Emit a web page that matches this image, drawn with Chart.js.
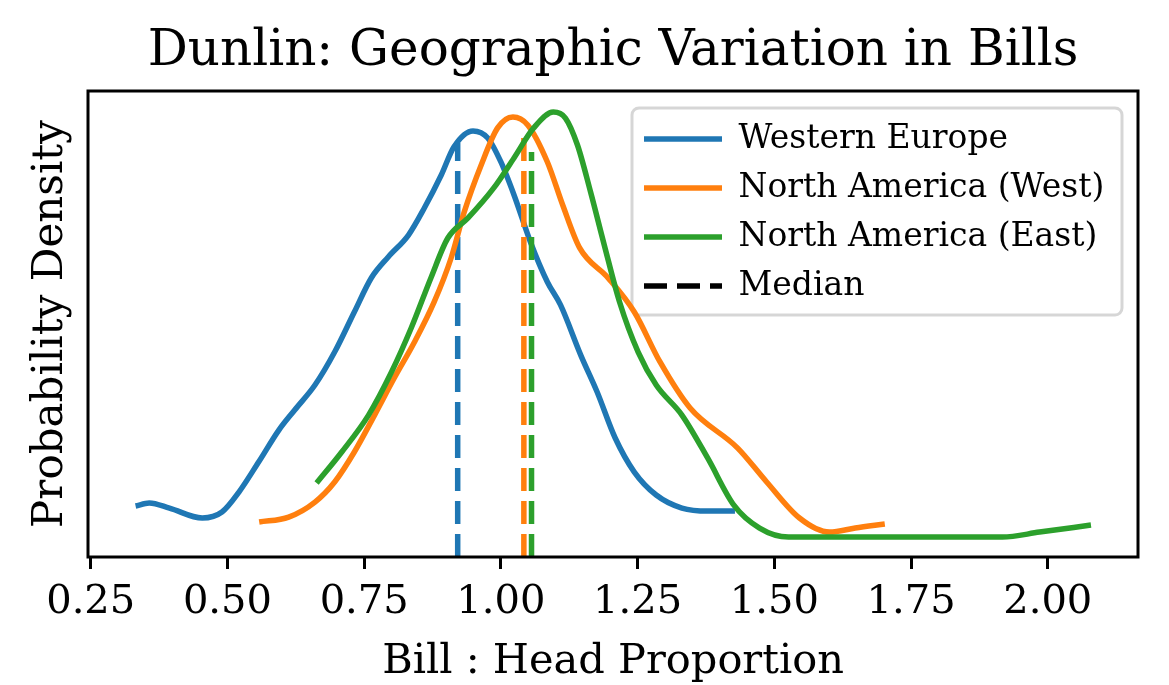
<!DOCTYPE html>
<html>
<head>
<meta charset="utf-8">
<script src="https://cdn.jsdelivr.net/npm/chart.js"></script>
<style>
  html, body { margin: 0; padding: 0; background: #fff; }
</style>
</head>
<body>
<canvas id="chart" width="1169" height="685"></canvas>
<script>
// Dunlin bill : head proportion - density curves

const seriesNames = ['Western Europe', 'North America (West)', 'North America (East)'];
const seriesColors = ['#1f77b4', '#ff7f0e', '#2ca02c'];

const westernEuropeX = [0.332, 0.357, 0.394, 0.454, 0.490, 0.521, 0.557, 0.594, 0.623, 0.660, 0.696, 0.732, 0.763, 0.794, 0.831, 0.860, 0.891, 0.914, 0.949, 0.976, 1.000, 1.024, 1.054, 1.085, 1.109, 1.146, 1.176, 1.209, 1.244, 1.284, 1.331, 1.379, 1.428];
const westernEuropeY = [0.207, 0.227, 0.193, 0.127, 0.167, 0.300, 0.500, 0.713, 0.847, 1.013, 1.233, 1.500, 1.727, 1.867, 2.013, 2.193, 2.413, 2.600, 2.707, 2.660, 2.500, 2.280, 1.967, 1.700, 1.547, 1.213, 0.967, 0.660, 0.433, 0.280, 0.193, 0.173, 0.173];

const northAmericaWestX = [0.558, 0.612, 0.660, 0.696, 0.732, 0.769, 0.805, 0.842, 0.878, 0.909, 0.933, 0.964, 0.994, 1.022, 1.049, 1.085, 1.113, 1.144, 1.196, 1.244, 1.291, 1.346, 1.433, 1.486, 1.546, 1.601, 1.648, 1.702];
const northAmericaWestY = [0.100, 0.133, 0.233, 0.367, 0.567, 0.813, 1.060, 1.300, 1.567, 1.860, 2.167, 2.480, 2.727, 2.800, 2.747, 2.500, 2.213, 1.927, 1.727, 1.500, 1.167, 0.860, 0.593, 0.367, 0.127, 0.033, 0.060, 0.087];

const northAmericaEastX = [0.663, 0.709, 0.758, 0.800, 0.836, 0.872, 0.903, 0.940, 0.987, 1.024, 1.060, 1.096, 1.118, 1.140, 1.164, 1.189, 1.217, 1.251, 1.284, 1.331, 1.378, 1.426, 1.473, 1.526, 1.637, 1.783, 1.917, 1.985, 2.079];
const northAmericaEastY = [0.360, 0.567, 0.813, 1.100, 1.393, 1.727, 1.993, 2.127, 2.327, 2.527, 2.727, 2.833, 2.793, 2.613, 2.300, 1.947, 1.567, 1.233, 1.013, 0.813, 0.527, 0.213, 0.060, 0.000, 0.000, 0.000, 0.000, 0.033, 0.080];

const medianValues = [0.921, 1.042, 1.056];
const medianHeights = [2.627, 2.667, 2.567];

const xTicks = [0.25, 0.50, 0.75, 1.00, 1.25, 1.50, 1.75, 2.00];
const yMin = -0.133;
const yMax = 2.973;

function toPoints(xs, ys) {
    return xs.map((x, i) => ({ x: x, y: ys[i] }));
}

const curves = [
    toPoints(westernEuropeX, westernEuropeY),
    toPoints(northAmericaWestX, northAmericaWestY),
    toPoints(northAmericaEastX, northAmericaEastY)
];

// matplotlib draws later lines on top, chart.js draws the first dataset on top -> reverse
const datasets = [];
for (let i = 0; i < 3; i++) {
    datasets.unshift({
        label: seriesNames[i],
        data: curves[i],
        borderColor: seriesColors[i],
        borderWidth: 5.5,
        pointRadius: 0,
        fill: false,
        cubicInterpolationMode: 'monotone'
    });
    datasets.unshift({
        label: 'Median ' + seriesNames[i],
        data: [{ x: medianValues[i], y: yMin }, { x: medianValues[i], y: medianHeights[i] }],
        borderColor: seriesColors[i],
        borderWidth: 5.5,
        borderDash: [23, 10],
        pointRadius: 0,
        fill: false
    });
}

// axes frame + legend box like matplotlib
const framePlugin = {
    id: 'frame',
    afterLayout(chart) {
        const lg = chart.legend;
        if (!lg) return;
        lg.left = 628;
        lg.top = 106.5;
        lg.right = 1122;
        lg.bottom = 600;
    },
    beforeDraw(chart) {
        const ctx = chart.ctx;
        ctx.save();
        ctx.beginPath();
        ctx.roundRect(632, 108, 490, 207, 7);
        ctx.fillStyle = 'rgba(255,255,255,0.8)';
        ctx.fill();
        ctx.lineWidth = 3;
        ctx.strokeStyle = 'rgba(204,204,204,0.8)';
        ctx.stroke();
        ctx.restore();
    },
    afterDatasetsDraw(chart) {
        const a = chart.chartArea;
        const ctx = chart.ctx;
        ctx.save();
        ctx.lineWidth = 3;
        ctx.strokeStyle = '#000';
        ctx.strokeRect(a.left, a.top, a.right - a.left, a.bottom - a.top);
        ctx.restore();
    }
};

Chart.defaults.font.family = "'DejaVu Serif', serif";
Chart.defaults.color = '#000';

new Chart(document.getElementById('chart'), {
    type: 'line',
    data: { datasets: datasets },
    options: {
        responsive: false,
        animation: false,
        devicePixelRatio: 1,
        layout: { padding: { left: 0, right: 31, top: 0, bottom: 0 } },
        plugins: {
            title: {
                display: true,
                text: 'Dunlin: Geographic Variation in Bills',
                fullSize: false,
                color: '#000',
                font: { size: 50, weight: 'normal' },
                padding: { top: 22, bottom: 9 }
            },
            legend: {
                position: 'chartArea',
                align: 'start',
                labels: {
                    font: { size: 33 },
                    color: '#000',
                    usePointStyle: true,
                    pointStyleWidth: 78,
                    padding: 16,
                    generateLabels: () => {
                        const items = seriesNames.map((name, i) => ({
                            text: name,
                            strokeStyle: seriesColors[i],
                            fillStyle: seriesColors[i],
                            lineWidth: 5.5,
                            lineDash: [],
                            pointStyle: 'line',
                            hidden: false,
                            fontColor: '#000'
                        }));
                        items.push({
                            text: 'Median',
                            strokeStyle: '#000',
                            fillStyle: '#000',
                            lineWidth: 5.5,
                            lineDash: [23, 10],
                            pointStyle: 'line',
                            hidden: false,
                            fontColor: '#000'
                        });
                        return items;
                    }
                }
            },
            tooltip: { enabled: false }
        },
        scales: {
            x: {
                type: 'linear',
                min: 0.245,
                max: 2.165,
                afterBuildTicks: axis => { axis.ticks = xTicks.map(v => ({ value: v })); },
                afterFit: scale => { scale.height = 128; },
                ticks: {
                    font: { size: 40 },
                    color: '#000',
                    padding: 10,
                    maxRotation: 0,
                    autoSkip: false,
                    callback: v => v.toFixed(2)
                },
                grid: {
                    drawOnChartArea: false,
                    drawTicks: true,
                    tickLength: 12,
                    tickWidth: 3,
                    tickColor: '#000'
                },
                border: { display: false },
                title: {
                    display: true,
                    text: 'Bill : Head Proportion',
                    font: { size: 41.5 },
                    color: '#000',
                    padding: { top: 0, bottom: -2 }
                }
            },
            y: {
                type: 'linear',
                min: yMin,
                max: yMax,
                afterFit: scale => { scale.width = 88; },
                ticks: { display: false },
                grid: { display: false },
                border: { display: false },
                title: {
                    display: true,
                    text: 'Probability Density',
                    font: { size: 42 },
                    color: '#000',
                    padding: { top: 26, bottom: 0 }
                }
            }
        }
    },
    plugins: [framePlugin]
});
</script>
</body>
</html>
